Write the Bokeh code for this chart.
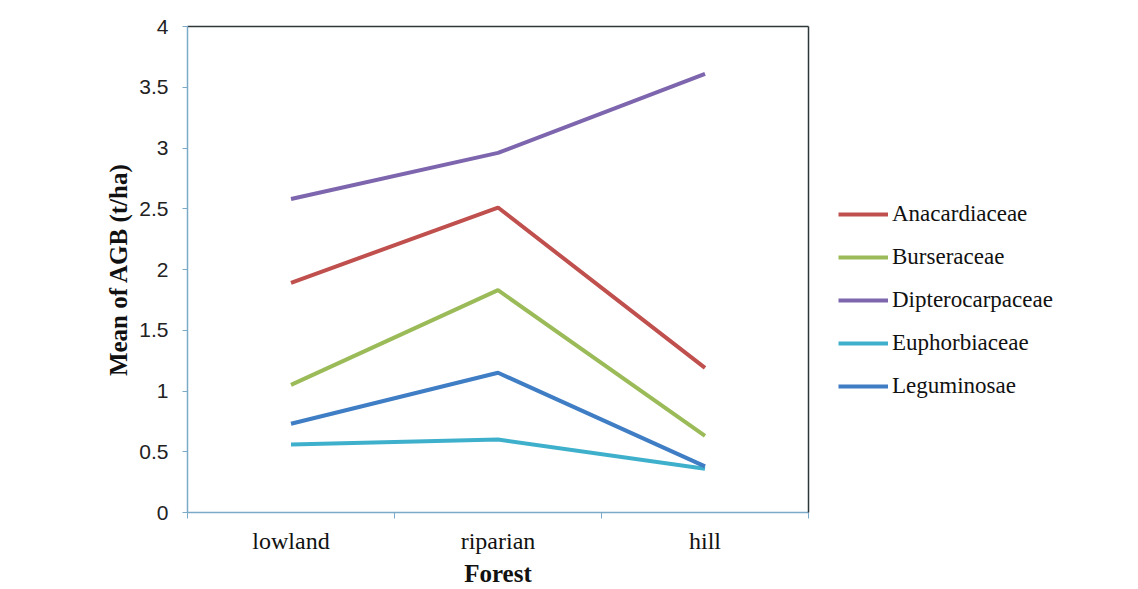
from bokeh.plotting import figure
from bokeh.layouts import row
from bokeh.models import (Range1d, FixedTicker, LinearAxis, Legend, LegendItem,
                          CustomJSTickFormatter, ColumnDataSource)
from bokeh.embed import file_html
from bokeh.resources import INLINE

# ---- data ----
forests = ["lowland", "riparian", "hill"]
families = ["Anacardiaceae", "Burseraceae", "Dipterocarpaceae", "Euphorbiaceae", "Leguminosae"]
anacardiaceae = [1.89, 2.51, 1.19]
burseraceae = [1.05, 1.83, 0.63]
dipterocarpaceae = [2.58, 2.96, 3.61]
euphorbiaceae = [0.56, 0.60, 0.36]
leguminosae = [0.73, 1.15, 0.38]
y_ticks = [0, 0.5, 1, 1.5, 2, 2.5, 3, 3.5, 4]
colors = ["#C0504D", "#9BBB59", "#7E66AE", "#3FB0CC", "#3F7DC4"]

series = [anacardiaceae, burseraceae, dipterocarpaceae, euphorbiaceae, leguminosae]

x_pos = [i + 0.5 for i in range(len(forests))]
boundaries = [float(i) for i in range(len(forests) + 1)]

H = 589
p = figure(width=818, height=H, output_backend="svg", toolbar_location=None,
           x_range=Range1d(0, len(forests)), y_range=Range1d(0, 4),
           min_border_left=187, min_border_right=10, min_border_top=26,
           min_border_bottom=77)
p.outline_line_color = None
p.grid.visible = False
p.background_fill_color = "white"
p.border_fill_color = "white"

axis_blue = "#7BAAC8"
serif = "Liberation Serif"

# x axis
xa = p.xaxis[0]
xa.ticker = FixedTicker(ticks=x_pos, minor_ticks=boundaries)
xa.major_label_overrides = {x: f for x, f in zip(x_pos, forests)}
xa.major_tick_out = 0
xa.major_tick_in = 0
xa.minor_tick_out = 6
xa.minor_tick_in = 0
xa.minor_tick_line_color = axis_blue
xa.axis_line_color = axis_blue
xa.axis_line_width = 1.5
xa.major_label_text_font = serif
xa.major_label_text_font_size = "24px"
xa.major_label_text_color = "#111111"
xa.major_label_standoff = 9
xa.axis_label = "Forest"
xa.axis_label_text_font = serif
xa.axis_label_text_font_style = "bold"
xa.axis_label_text_font_size = "25px"
xa.axis_label_text_color = "#111111"
xa.axis_label_standoff = 3

# y axis
ya = p.yaxis[0]
ya.ticker = FixedTicker(ticks=y_ticks, minor_ticks=[])
ya.formatter = CustomJSTickFormatter(code="return tick.toString();")
ya.major_tick_out = 5
ya.major_tick_in = 0
ya.major_tick_line_color = axis_blue
ya.axis_line_color = axis_blue
ya.axis_line_width = 1.5
ya.major_label_text_font = "Liberation Sans"
ya.major_label_text_font_size = "21px"
ya.major_label_text_color = "#222222"
ya.major_label_standoff = 14
ya.axis_label = "Mean of AGB (t/ha)"
ya.axis_label_text_font = serif
ya.axis_label_text_font_style = "bold"
ya.axis_label_text_font_size = "25px"
ya.axis_label_text_color = "#111111"
ya.axis_label_standoff = 4

# top and right frame lines
for side in ("above", "right"):
    ax = LinearAxis(ticker=FixedTicker(ticks=[]), axis_line_color="#2E3838",
                    axis_line_width=1.5, major_label_text_font_size="0px",
                    major_tick_line_color=None, minor_tick_line_color=None)
    p.add_layout(ax, side)

sources = []
for vals, col in zip(series, colors):
    src = ColumnDataSource(dict(x=x_pos, y=vals))
    sources.append(src)
    p.line("x", "y", source=src, line_color=col, line_width=4)

# legend panel as a separate figure (its lines lie outside its visible range)
lp = figure(width=310, height=H, output_backend="svg", toolbar_location=None,
            x_range=Range1d(100, 101), y_range=Range1d(100, 101),
            min_border=0)
lp.axis.visible = False
lp.grid.visible = False
lp.outline_line_color = None
lp.background_fill_color = "white"
lp.border_fill_color = "white"

items = []
for name, src, col in zip(families, sources, colors):
    r = lp.line("x", "y", source=src, line_color=col, line_width=4)
    items.append(LegendItem(label=name, renderers=[r]))

legend = Legend(items=items, location=(20, 113), orientation="vertical",
                border_line_color=None, background_fill_alpha=0,
                padding=0, margin=0, spacing=17,
                glyph_width=50, glyph_height=24, label_height=24,
                label_standoff=4, label_text_font=serif,
                label_text_font_size="23px", label_text_color="#111111")
lp.add_layout(legend, "center")

layout = row(p, lp, spacing=0)
open("out.html", "w").write(file_html(layout, INLINE))
